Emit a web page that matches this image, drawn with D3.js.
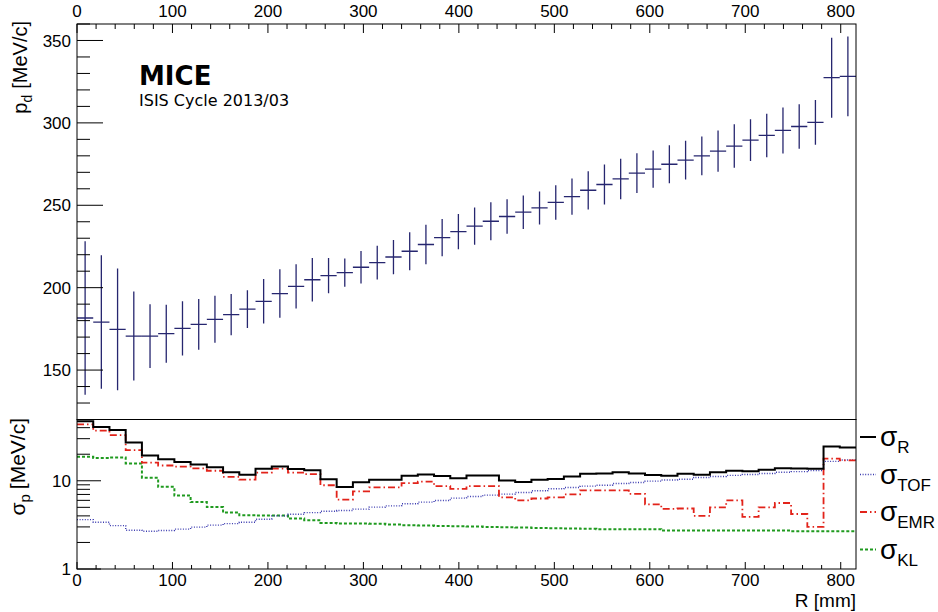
<!DOCTYPE html>
<html><head><meta charset="utf-8">
<script src="https://cdn.jsdelivr.net/npm/d3@7"></script>
<style>
body{margin:0;background:#fff}
svg{display:block}
text{font-family:"Liberation Sans",Arial,Helvetica,sans-serif;fill:#000}
</style>
</head><body>
<svg id="c" width="938" height="612"></svg>
<script>
// ---------------- data ----------------
const nBins = 48;
const binWidth = 17; // mm
const pd = [181.6,179.1,174.7,170.6,170.6,172.1,175.3,177.7,180.8,183.6,187.0,191.7,196.4,200.8,204.8,207.3,209.1,212.4,215.2,218.6,222.1,226.2,230.4,234.0,237.3,240.3,243.2,245.8,248.4,251.7,255.3,259.1,262.6,266.0,269.5,271.9,274.9,277.4,280.0,282.8,285.9,289.5,292.4,295.4,297.8,300.3,327.4,328.2];
const pdErr = [46.6,40.5,37.0,27.0,19.4,17.6,16.5,15.4,14.3,12.5,11.4,13.5,14.7,13.4,13.2,10.7,8.6,9.8,10.2,10.4,11.6,12.0,11.3,10.7,11.3,11.5,10.5,10.2,10.0,10.5,11.0,11.6,12.1,12.3,12.1,11.3,11.5,11.8,11.8,12.5,13.2,12.7,13.2,14.0,13.5,13.6,24.3,24.2];
const sigmaR = [47.4,40.8,37.7,27.2,19.4,17.5,16.3,15.3,14.2,12.5,11.7,13.7,14.5,13.6,13.2,10.4,8.5,9.6,10.3,10.3,11.4,11.8,11.3,10.7,11.5,11.5,10.1,9.7,10.3,10.5,11.2,12.0,12.1,12.5,12.1,11.6,11.4,12.0,11.7,12.5,13.0,12.8,13.3,13.9,13.8,13.7,24.5,23.9];
const sigmaTOF = [3.63,3.39,3.10,2.75,2.68,2.73,2.83,2.98,3.14,3.27,3.39,3.67,4.0,4.18,4.36,4.52,4.6,4.77,5.03,5.2,5.48,5.73,5.97,6.36,6.63,6.87,7.06,7.36,7.7,8.11,8.4,8.7,8.9,9.3,9.57,9.9,10.2,10.4,10.9,11.2,11.5,11.8,12.1,12.5,12.7,13.1,16.6,17.2];
const sigmaEMR = [43.6,37.0,33.0,22.3,16.1,14.9,14.5,13.8,13.0,11.1,10.3,12.4,13.7,12.4,11.9,8.9,6.1,7.6,8.4,8.4,9.4,9.8,8.7,8.1,8.7,8.7,6.5,6.0,6.3,6.5,7.0,7.8,7.8,7.8,7.1,5.4,4.8,4.85,4.0,5.0,6.0,3.9,5.0,5.6,4.2,3.0,17.8,17.0];
const sigmaKL = [18.7,18.1,18.4,15.7,10.8,8.55,6.8,5.73,5.03,4.36,4.07,4.03,4.03,3.73,3.57,3.33,3.27,3.27,3.25,3.19,3.14,3.12,3.08,3.06,3.03,3.0,2.98,2.96,2.92,2.9,2.88,2.85,2.83,2.83,2.83,2.83,2.73,2.73,2.73,2.73,2.73,2.73,2.73,2.73,2.68,2.68,2.68,2.68];
const xTicks = [0,100,200,300,400,500,600,700,800];
const pdTicks = [150,200,250,300,350];
const sigmaTicks = [1,10];
const legendSubs = ["R","TOF","EMR","KL"];

// ---------------- layout ----------------
const svg = d3.select("#c");
const L = 77, R = 856, T = 24, MID = 419.5, B = 569;
const xMax = nBins * binWidth;
const x = d3.scaleLinear().domain([0, xMax]).range([L, R]);
const yTop = d3.scaleLinear().domain([120, 360]).range([MID, T]);
const yLow = d3.scaleLog().domain([1, 49.5]).range([B, MID]);

// clip paths
const defs = svg.append("defs");
defs.append("clipPath").attr("id","clipTop").append("rect").attr("x",L).attr("y",T).attr("width",R-L).attr("height",MID-T);
defs.append("clipPath").attr("id","clipLow").append("rect").attr("x",L).attr("y",MID).attr("width",R-L).attr("height",B-MID);

// ---------------- top panel ----------------
const gTop = svg.append("g");
const navy = "#26266f";
const pts = gTop.append("g").attr("clip-path","url(#clipTop)");
pd.forEach((v,i)=>{
  const x0 = x(i*binWidth), x1 = x((i+1)*binWidth), xc = x((i+0.5)*binWidth);
  pts.append("line").attr("x1",x0).attr("x2",x1).attr("y1",yTop(v)).attr("y2",yTop(v))
     .attr("stroke",navy).attr("stroke-width",1.3);
  pts.append("line").attr("x1",xc).attr("x2",xc).attr("y1",yTop(v-pdErr[i])).attr("y2",yTop(v+pdErr[i]))
     .attr("stroke",navy).attr("stroke-width",1.3);
});

// frame top panel
gTop.append("rect").attr("x",L).attr("y",T).attr("width",R-L).attr("height",MID-T)
  .attr("fill","none").attr("stroke","#000").attr("stroke-width",1);

// top axis ticks (x)
const xMinor = d3.range(0, xMax+0.1, 20);
xMinor.forEach(t=>{
  const major = xTicks.includes(t);
  gTop.append("line").attr("x1",x(t)).attr("x2",x(t)).attr("y1",T).attr("y2",T+(major?9:5))
    .attr("stroke","#000").attr("stroke-width",1);
});
xTicks.forEach(t=>{
  gTop.append("text").attr("x",x(t)).attr("y",17).attr("text-anchor","middle")
    .attr("font-size",17).text(t);
});
// left axis ticks (pd)
d3.range(120, 361, 10).forEach(t=>{
  const major = pdTicks.includes(t);
  gTop.append("line").attr("x1",L).attr("x2",L+(major?26:13)).attr("y1",yTop(t)).attr("y2",yTop(t))
    .attr("stroke","#000").attr("stroke-width",1);
});
pdTicks.forEach(t=>{
  gTop.append("text").attr("x",71).attr("y",yTop(t)).attr("dy","0.36em").attr("text-anchor","end")
    .attr("font-size",17).text(t);
});
// y title top
const tt = gTop.append("text").attr("transform","translate(27,21) rotate(-90)")
  .attr("text-anchor","end").attr("font-size",20);
tt.append("tspan").text("p");
tt.append("tspan").attr("font-size",14).attr("dy",5).text("d");
tt.append("tspan").attr("dy",-5).attr("dx",6).text("[MeV/c]");

// annotation
gTop.append("text").attr("x",139).attr("y",85).attr("font-size",26).attr("font-weight","bold")
  .style("font-family","'DejaVu Sans',sans-serif").text("MICE");
gTop.append("text").attr("x",139).attr("y",106).attr("font-size",16)
  .style("font-family","'DejaVu Sans',sans-serif").text("ISIS Cycle 2013/03");

// ---------------- lower panel ----------------
const gLow = svg.append("g");
const hist = gLow.append("g").attr("clip-path","url(#clipLow)");
const stepLine = d3.line().x(d=>x(d[0])).y(d=>yLow(d[1])).curve(d3.curveStepAfter);
function histPts(arr){
  const p = arr.map((v,i)=>[i*binWidth, v]);
  p.push([xMax, arr[arr.length-1]]);
  return p;
}
const styles = [
  {data: sigmaR,  color:"#000000", width:2,   dash:null},
  {data: sigmaTOF,color:"#3b3bb0", width:1.4, dash:"1,1.6"},
  {data: sigmaEMR,color:"#e2231a", width:1.8, dash:"7,3,1.5,3"},
  {data: sigmaKL, color:"#1f9a1f", width:2,   dash:"3,2"}
];
// draw order: KL, TOF, EMR, R on top
[3,1,2,0].forEach(k=>{
  const s = styles[k];
  hist.append("path").attr("d", stepLine(histPts(s.data)))
    .attr("fill","none").attr("stroke",s.color).attr("stroke-width",s.width)
    .attr("stroke-dasharray",s.dash);
});

// frame lower
gLow.append("rect").attr("x",L).attr("y",MID).attr("width",R-L).attr("height",B-MID)
  .attr("fill","none").attr("stroke","#000").attr("stroke-width",1);

// bottom axis ticks
xMinor.forEach(t=>{
  const major = xTicks.includes(t);
  gLow.append("line").attr("x1",x(t)).attr("x2",x(t)).attr("y1",B).attr("y2",B-(major?7:4))
    .attr("stroke","#000").attr("stroke-width",1);
});
xTicks.forEach(t=>{
  gLow.append("text").attr("x",x(t)).attr("y",586).attr("text-anchor","middle")
    .attr("font-size",17).text(t);
});
gLow.append("text").attr("x",R).attr("y",607).attr("text-anchor","end").attr("font-size",19).text("R [mm]");

// left log axis ticks
const logMinor = [2,3,4,5,6,7,8,9,20,30,40];
logMinor.forEach(t=>{
  gLow.append("line").attr("x1",L).attr("x2",L+13).attr("y1",yLow(t)).attr("y2",yLow(t))
    .attr("stroke","#000").attr("stroke-width",1);
});
sigmaTicks.forEach(t=>{
  gLow.append("line").attr("x1",L).attr("x2",L+24).attr("y1",yLow(t)).attr("y2",yLow(t))
    .attr("stroke","#000").attr("stroke-width",1);
  gLow.append("text").attr("x",71).attr("y",yLow(t)).attr("dy","0.36em").attr("text-anchor","end")
    .attr("font-size",17).text(t);
});
const lt = gLow.append("text").attr("transform","translate(25,418) rotate(-90)")
  .attr("text-anchor","end").attr("font-size",21);
lt.append("tspan").text("σ");
lt.append("tspan").attr("font-size",15).attr("dy",5).text("p");
lt.append("tspan").attr("dy",-5).attr("dx",5).text("[MeV/c]");

// ---------------- legend ----------------
const legRows = [438, 475.5, 513, 550.5];
legendSubs.forEach((s,i)=>{
  const st = styles[i];
  const yy = legRows[i];
  svg.append("line").attr("x1",860).attr("x2",876).attr("y1",yy-1).attr("y2",yy-1)
    .attr("stroke",st.color).attr("stroke-width",st.width).attr("stroke-dasharray",st.dash);
  const t = svg.append("text").attr("x",880).attr("y",yy+8).attr("font-size",28);
  t.append("tspan").text("σ");
  t.append("tspan").attr("font-size",17).attr("dy",7).text(s);
});
</script>
</body></html>
